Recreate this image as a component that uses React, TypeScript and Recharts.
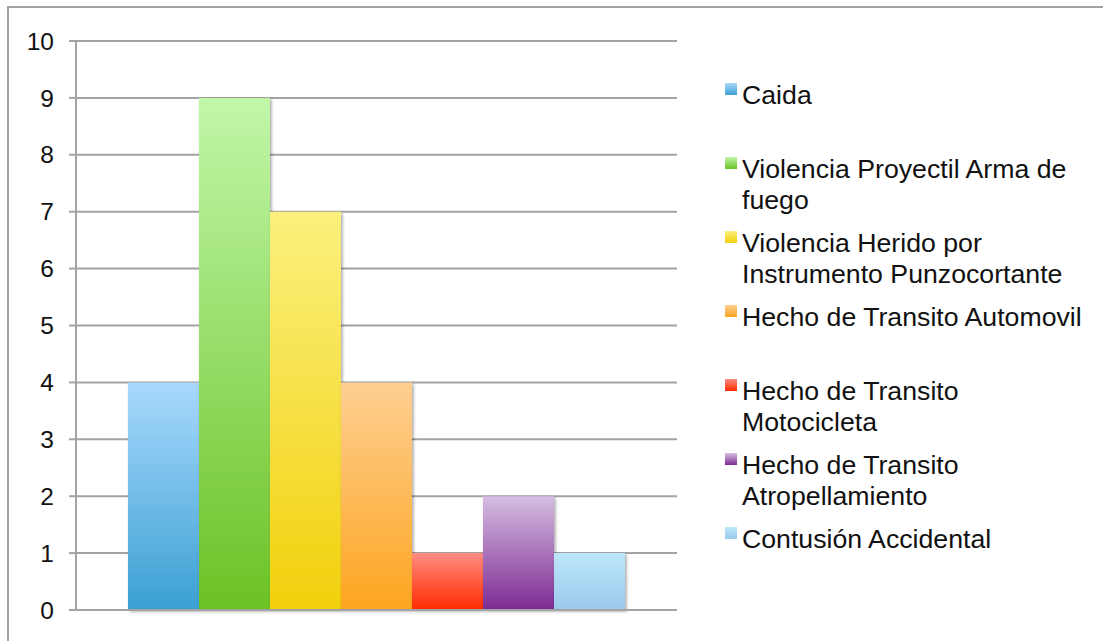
import { BarChart, Bar, XAxis, YAxis, CartesianGrid, Legend } from "recharts"

const categories = [""]
const seriesNames = [
  "Caida",
  "Violencia Proyectil Arma de fuego",
  "Violencia Herido por Instrumento Punzocortante",
  "Hecho de Transito Automovil",
  "Hecho de Transito Motocicleta",
  "Hecho de Transito Atropellamiento",
  "Contusión Accidental",
]
const seriesValues = [4, 9, 7, 4, 1, 2, 1]
const yTicks = [0, 1, 2, 3, 4, 5, 6, 7, 8, 9, 10]

// top / bottom of each bar's gradient
const topColors = ["#a9d9fd", "#c1f7a9", "#fbf07e", "#fecf92", "#ff8c82", "#d6bde2", "#bce7fb"]
const bottomColors = ["#3aa0d2", "#6bc225", "#f2d00c", "#fda520", "#ff2a00", "#7c2a92", "#9ac8ea"]

const FONT = '"Liberation Sans", Arial, Helvetica, sans-serif'
const GRAY = "#a3a3a3"

const data = categories.map((category, c) => {
  const row: Record<string, string | number> = { category }
  seriesValues.forEach((v, i) => {
    row["s" + i] = c === 0 ? v : 0
  })
  return row
})

function LegendBox() {
  return (
    <div style={{ fontFamily: FONT, fontSize: 26.7, lineHeight: "31px", color: "#111", textAlign: "left" }}>
      {seriesNames.map((name, i) => (
        <div key={name} style={{ position: "relative", height: 74, paddingLeft: 17 }}>
          <div
            style={{
              position: "absolute",
              left: 0,
              top: 3,
              width: 12,
              height: 12,
              background: `linear-gradient(${topColors[i]}, ${bottomColors[i]})`,
            }}
          />
          <div style={{ width: 352 }}>{name}</div>
        </div>
      ))}
    </div>
  )
}

export default function App() {
  return (
    <div style={{ position: "absolute", left: 0, top: 0, width: 1103, height: 641, background: "#fff", overflow: "hidden" }}>
      <div
        style={{
          position: "absolute",
          left: 7,
          top: 6,
          right: -4,
          bottom: -4,
          borderTop: `2px solid ${GRAY}`,
          borderLeft: `2px solid ${GRAY}`,
        }}
      />
      <BarChart
        width={1103}
        height={641}
        data={data}
        margin={{ top: 41, right: 426, bottom: 0, left: 0 }}
        barCategoryGap={52}
        barGap={0}
      >
        <defs>
          {seriesNames.map((_, i) => (
            <linearGradient key={i} id={"grad" + i} x1="0" y1="0" x2="0" y2="1">
              <stop offset="0%" stopColor={topColors[i]} />
              <stop offset="100%" stopColor={bottomColors[i]} />
            </linearGradient>
          ))}
          <filter id="barShadow" x="-20%" y="-10%" width="140%" height="120%">
            <feDropShadow dx="1.5" dy="1.5" stdDeviation="1.8" floodColor="#000" floodOpacity="0.35" />
          </filter>
        </defs>
        <CartesianGrid xAxisId="frame" vertical={false} stroke={GRAY} strokeWidth={2} />
        <XAxis xAxisId="cat" dataKey="category" hide height={0} />
        <XAxis
          xAxisId="frame"
          type="number"
          domain={[0, 1]}
          ticks={[0, 1]}
          allowDataOverflow
          height={31}
          tick={false}
          tickSize={7}
          axisLine={{ stroke: GRAY, strokeWidth: 2 }}
          tickLine={{ stroke: GRAY, strokeWidth: 2 }}
        />
        <YAxis
          domain={[0, 10]}
          ticks={yTicks}
          interval={0}
          width={76}
          tickSize={7}
          tickMargin={15}
          axisLine={{ stroke: GRAY, strokeWidth: 2 }}
          tickLine={{ stroke: GRAY, strokeWidth: 2 }}
          tick={{ fill: "#111", fontSize: 24.5, fontFamily: FONT }}
        />
        <Legend
          layout="horizontal"
          align="center"
          verticalAlign="middle"
          content={() => <LegendBox />}
          wrapperStyle={{ left: 725, top: 80, width: 378 }}
        />
        {seriesNames.map((name, i) => (
          <Bar
            key={name}
            xAxisId="cat"
            dataKey={"s" + i}
            name={name}
            fill={`url(#grad${i})`}
            filter="url(#barShadow)"
            isAnimationActive={false}
          />
        ))}
      </BarChart>
    </div>
  )
}
